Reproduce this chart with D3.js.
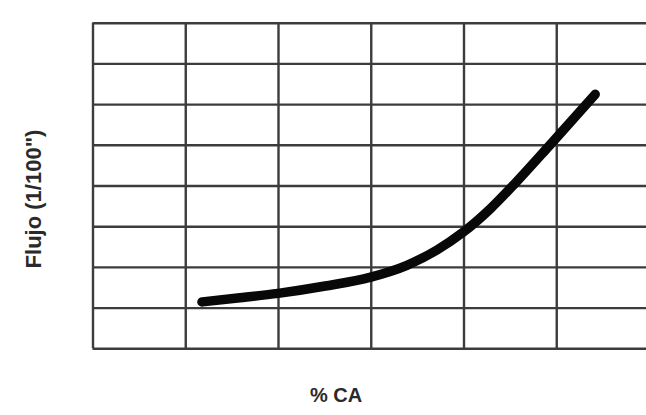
<!DOCTYPE html>
<html>
<head>
<meta charset="utf-8">
<script src="https://cdn.jsdelivr.net/npm/d3@7/dist/d3.min.js"></script>
<style>
  html, body { margin: 0; padding: 0; background: #fff; }
  svg { display: block; }
</style>
</head>
<body>
<svg id="chart" width="646" height="415"></svg>
<script>
// Data (grid units: x 0..6 columns, y 0..8 rows)
const xTicks = [0, 1, 2, 3, 4, 5, 6];
const yTicks = [0, 1, 2, 3, 4, 5, 6, 7, 8];
const curveX = [1.18, 1.59, 2.00, 2.51, 3.00, 3.39, 3.71, 3.995, 4.29, 4.555, 4.93, 5.42];
const curveY = [1.14, 1.24, 1.35, 1.53, 1.75, 2.04, 2.41, 2.85, 3.43, 4.05, 4.99, 6.24];
const xLabel = "% CA";
const yLabel = "Flujo (1/100\")";

(function () {
const svg = d3.select("#chart");
const pLeft = 92.5, pRight = 649, pTop = 22.7, pBottom = 348.3;

const x = d3.scaleLinear().domain([0, 6]).range([pLeft, pRight]);
const y = d3.scaleLinear().domain([0, 8]).range([pBottom, pTop]);

const gridColor = "#3c3c3c";

// vertical grid lines
svg.append("g")
  .attr("transform", `translate(0,${pTop})`)
  .call(d3.axisBottom(x).tickValues(xTicks).tickSize(pBottom - pTop).tickFormat(""))
  .call(g => g.select(".domain").remove())
  .call(g => g.selectAll("line").attr("stroke", gridColor).attr("stroke-width", 2.4));

// horizontal grid lines
svg.append("g")
  .attr("transform", `translate(${pLeft},0)`)
  .call(d3.axisRight(y).tickValues(yTicks).tickSize(pRight - pLeft).tickFormat(""))
  .call(g => g.select(".domain").remove())
  .call(g => g.selectAll("line").attr("stroke", gridColor).attr("stroke-width", 2.4));

// curve
const pts = curveX.map((v, i) => [v, curveY[i]]);
svg.append("path")
  .datum(pts)
  .attr("fill", "none")
  .attr("stroke", "#080808")
  .attr("stroke-width", 9.5)
  .attr("stroke-linecap", "round")
  .attr("stroke-linejoin", "round")
  .attr("d", d3.line().x(d => x(d[0])).y(d => y(d[1])).curve(d3.curveMonotoneX));

// axis labels
svg.append("text")
  .attr("x", 336).attr("y", 402)
  .attr("text-anchor", "middle")
  .attr("font-family", "Liberation Sans, Arial, sans-serif")
  .attr("font-weight", "bold")
  .attr("font-size", 20)
  .attr("fill", "#2a2a2a")
  .text(xLabel);

svg.append("text")
  .attr("transform", "translate(41,199) rotate(-90)")
  .attr("text-anchor", "middle")
  .attr("font-family", "Liberation Sans, Arial, sans-serif")
  .attr("font-weight", "bold")
  .attr("font-size", 22)
  .attr("fill", "#2a2a2a")
  .text(yLabel);
})();
</script>
</body>
</html>
